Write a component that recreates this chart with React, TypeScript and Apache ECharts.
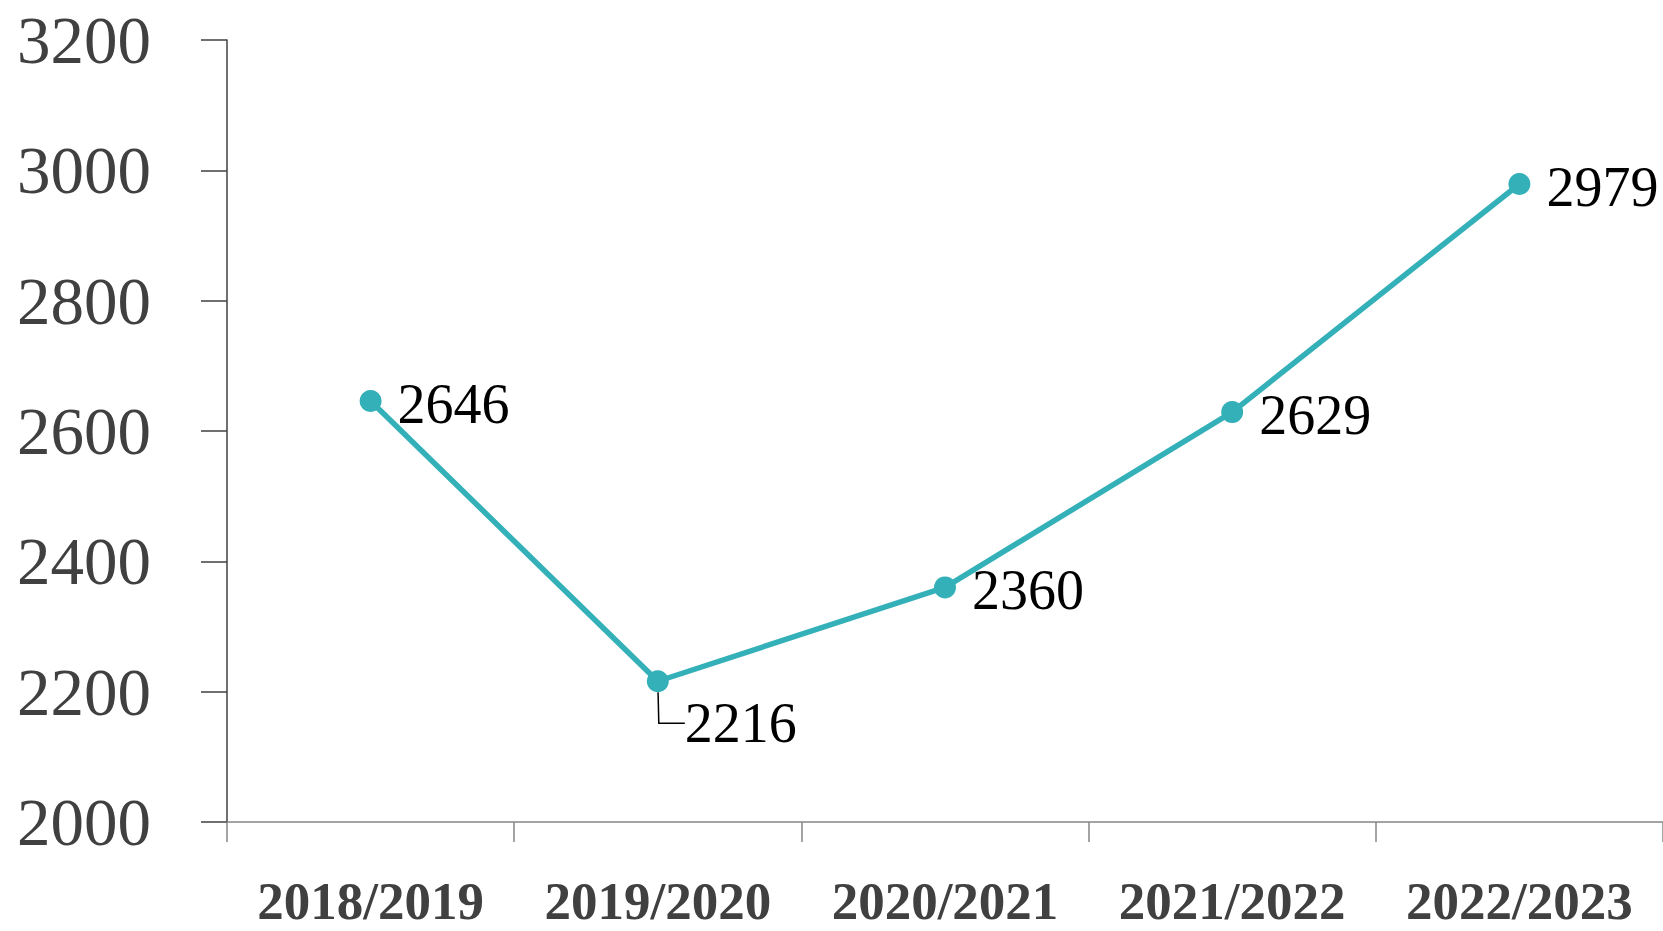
import React, { useEffect, useRef } from "react";
import * as echarts from "echarts";

const categories = ["2018/2019", "2019/2020", "2020/2021", "2021/2022", "2022/2023"];
const values = [2646, 2216, 2360, 2629, 2979];
const yMin = 2000;
const yMax = 3200;
const yInterval = 200;

export default function App() {
  const ref = useRef<HTMLDivElement>(null);
  useEffect(() => {
    document.body.style.margin = "0";
    const chart = echarts.init(ref.current!, null, { renderer: "svg" });
    const data = values.map((v, i) => {
      if (i === 1) {
        return {
          value: v,
          labelLine: { show: true, length2: 26, lineStyle: { color: "#000", width: 1.5 } },
        };
      }
      return { value: v };
    });
    chart.setOption({
      animation: false,
      backgroundColor: "#fff",
      grid: { left: 227, right: 0, top: 40, bottom: 109, containLabel: false, outerBoundsMode: "none" },
      xAxis: {
        type: "category",
        data: categories,
        boundaryGap: true,
        axisLine: { show: true, lineStyle: { color: "#868686", width: 1.5 } },
        axisTick: { show: true, length: 20, alignWithLabel: false, lineStyle: { color: "#868686", width: 1.5 } },
        axisLabel: {
          interval: 0,
          margin: 52,
          fontFamily: "Liberation Serif",
          fontWeight: "bold",
          fontSize: 53,
          color: "#404040",
        },
        splitLine: { show: false },
      },
      yAxis: {
        type: "value",
        min: yMin,
        max: yMax,
        interval: yInterval,
        axisLine: { show: true, lineStyle: { color: "#404040", width: 1.5 } },
        axisTick: { show: true, length: 26, inside: false, lineStyle: { color: "#404040", width: 1.5 } },
        axisLabel: {
          margin: 76,
          fontFamily: "Liberation Serif",
          fontSize: 67,
          color: "#404040",
          formatter: (v: number) => String(v),
        },
        splitLine: { show: false },
      },
      series: [
        {
          type: "line",
          data,
          symbol: "circle",
          symbolSize: 22,
          lineStyle: { color: "#33B0B8", width: 5.5 },
          itemStyle: { color: "#33B0B8" },
          labelLayout: (params: any) => (params.dataIndex === 1 ? { dy: 42 } : { dy: 3 }),
          label: {
            show: true,
            position: "right",
            distance: 16,
            fontFamily: "Liberation Serif",
            fontSize: 56,
            color: "#000",
          },
        },
      ],
    });
    return () => chart.dispose();
  }, []);
  return <div ref={ref} style={{ width: 1663, height: 931 }} />;
}
